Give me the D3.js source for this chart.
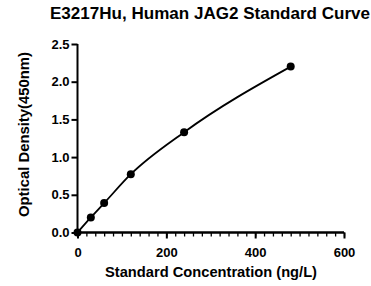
<!DOCTYPE html>
<html><head><meta charset="utf-8">
<script src="https://cdn.jsdelivr.net/npm/d3@7"></script>
<style>body{margin:0;background:#fff}svg{display:block}text{font-family:"Liberation Sans",Arial,sans-serif;font-weight:bold;fill:#000}</style>
</head><body>
<svg id="c" width="371" height="286"></svg>
<script>
const concentrations = [0, 30, 60, 120, 240, 480];
const odValues = [0.0, 0.2, 0.39, 0.773, 1.33, 2.2];
const xTicks = [0, 200, 400, 600];
const yTicks = [0.0, 0.5, 1.0, 1.5, 2.0, 2.5];
const title = "E3217Hu, Human JAG2 Standard Curve";
const xLabel = "Standard Concentration (ng/L)";
const yLabel = "Optical Density(450nm)";

const svg = d3.select("#c");
const x = d3.scaleLinear().domain([0, 600]).range([77.5, 344]);
const y = d3.scaleLinear().domain([0, 2.5]).range([232.5, 44]);
const ff = "Liberation Sans, Arial, sans-serif";

// x axis minor ticks
const xa = svg.append("g").attr("transform", "translate(0,232.5)");
xa.call(d3.axisBottom(x).tickValues(d3.range(0, 601, 20)).tickSize(4).tickFormat(""));
xa.selectAll(".tick line").attr("stroke-width", 1.3);
const xb = svg.append("g").attr("transform", "translate(0,232.5)");
xb.call(d3.axisBottom(x).tickValues(xTicks).tickSize(6).tickPadding(9).tickFormat(d3.format("d")));
xb.selectAll(".tick line").attr("stroke-width", 2);
xb.selectAll("text").attr("font-size", 13).attr("font-family", ff).attr("font-weight", "bold");
[xa, xb].forEach(g => g.select(".domain").attr("stroke-width", 2).attr("d", `M${x(0)},0H${x(600)}`));

// y axis
const ya = svg.append("g").attr("transform", "translate(77.5,0)");
ya.call(d3.axisLeft(y).tickValues(yTicks).tickSize(6).tickPadding(2).tickFormat(d3.format(".1f")));
ya.select(".domain").attr("stroke-width", 2).attr("d", `M0,${y(0)}V${y(2.5)}`);
ya.selectAll(".tick line").attr("stroke-width", 2);
ya.selectAll("text").attr("font-size", 13).attr("font-family", ff).attr("font-weight", "bold");

// curve
const pts = concentrations.map((c, i) => [c, odValues[i]]);
svg.append("path").datum(pts)
  .attr("fill", "none").attr("stroke", "#000").attr("stroke-width", 1.8)
  .attr("d", d3.line().x(d => x(d[0])).y(d => y(d[1])).curve(d3.curveMonotoneX));

svg.selectAll("circle.pt").data(pts).join("circle").attr("class", "pt")
  .attr("cx", d => x(d[0])).attr("cy", d => y(d[1])).attr("r", 4).attr("fill", "#000");

svg.append("text").attr("x", 50).attr("y", 19).attr("font-size", 16)
  .attr("textLength", 320).attr("lengthAdjust", "spacingAndGlyphs").text(title);
svg.append("text").attr("x", 105).attr("y", 277).attr("font-size", 14.5)
  .attr("textLength", 212).attr("lengthAdjust", "spacingAndGlyphs").text(xLabel);
svg.append("text").attr("transform", "translate(29,217) rotate(-90)").attr("font-size", 14.5)
  .attr("textLength", 165).attr("lengthAdjust", "spacingAndGlyphs").text(yLabel);
</script>
</body></html>
